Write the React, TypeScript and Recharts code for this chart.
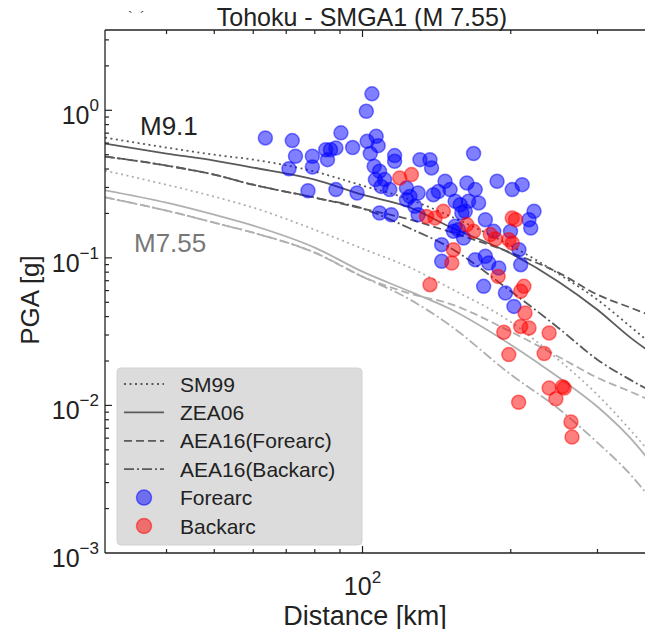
import React from "react";
import { ComposedChart, Line, Scatter, XAxis, YAxis } from "recharts";

// distances (km) at which the attenuation curves were read
const DIST = [30, 40, 50, 60, 80, 100, 125, 150, 200, 250, 300, 350, 390];

// M9.1 curves (PGA, g)
const SM99_M91 = [0.653, 0.559, 0.5, 0.463, 0.384, 0.309, 0.248, 0.193, 0.121, 0.078, 0.052, 0.0342, 0.0253];
const ZEA06_M91 = [0.594, 0.509, 0.456, 0.409, 0.339, 0.268, 0.219, 0.163, 0.107, 0.069, 0.0445, 0.0288, 0.0221];
const AEA16F_M91 = [0.486, 0.422, 0.366, 0.313, 0.256, 0.216, 0.1815, 0.1505, 0.1085, 0.0794, 0.0563, 0.046, 0.04];
const AEA16B_M91 = [0.486, 0.422, 0.366, 0.313, 0.256, 0.216, 0.158, 0.118, 0.0594, 0.0335, 0.0204, 0.0149, 0.0122];

// M7.55 curves
const SM99_M755 = [0.39, 0.313, 0.26, 0.219, 0.155, 0.1155, 0.0858, 0.0628, 0.0368, 0.0204, 0.0118, 0.0068, 0.0045];
const ZEA06_M755 = [0.287, 0.2367, 0.196, 0.1653, 0.1173, 0.0806, 0.059, 0.0454, 0.0258, 0.0155, 0.0098, 0.006, 0.0039];
const AEA16F_M755 = [0.257, 0.209, 0.173, 0.148, 0.1085, 0.0746, 0.0572, 0.049, 0.0316, 0.0214, 0.0154, 0.0124, 0.0106];
const AEA16B_M755 = [0.257, 0.209, 0.173, 0.148, 0.1085, 0.0746, 0.0521, 0.0352, 0.0162, 0.0095, 0.0056, 0.0034, 0.0022];

// recorded PGA: [distance km, pga g]
const FOREARC: [number, number][] = [
  [63.5, 0.65], [72.0, 0.623], [73.1, 0.488], [70.9, 0.402], [79.1, 0.488], [79.1, 0.413],
  [77.5, 0.285], [84.2, 0.541], [86.1, 0.541], [84.9, 0.463], [88.3, 0.556], [90.4, 0.703],
  [88.3, 0.29], [95.5, 0.559], [97.5, 0.275], [104.5, 1.292], [101.8, 0.984], [102.2, 0.616],
  [106.6, 0.666], [107.6, 0.576], [103.7, 0.509], [105.6, 0.417], [108.3, 0.386], [106.2, 0.339],
  [109.1, 0.305], [113.6, 0.29], [108.3, 0.2015], [114.4, 0.196], [116.2, 0.493], [116.2, 0.451],
  [110.9, 0.339], [130.8, 0.463], [137.1, 0.463], [138.1, 0.407], [168.1, 0.509], [122.8, 0.298],
  [124.8, 0.261], [122.8, 0.248], [127.7, 0.2235], [129.7, 0.275], [129.7, 0.196], [139.3, 0.268],
  [142.6, 0.282], [147.1, 0.33], [150.6, 0.29], [154.2, 0.2415], [157.9, 0.2294], [162.9, 0.322],
  [169.4, 0.29], [172.1, 0.2357], [164.2, 0.2415], [161.7, 0.2066], [159.1, 0.2015], [187.6, 0.33],
  [201.4, 0.29], [211.0, 0.3135], [223.0, 0.2066], [217.8, 0.1815], [219.6, 0.1594], [177.6, 0.1815],
  [184.7, 0.1512], [154.2, 0.1635], [160.4, 0.1364], [153.0, 0.1512], [156.6, 0.1553], [144.8, 0.1229],
  [144.8, 0.0947], [169.4, 0.0972], [177.6, 0.1024], [180.4, 0.0923], [189.1, 0.0854], [199.8, 0.1512],
  [207.8, 0.1136], [209.5, 0.0899], [176.2, 0.0641], [195.1, 0.0578], [203.0, 0.0469],
];

const BACKARC: [number, number][] = [
  [119.0, 0.348], [125.7, 0.3665], [134.9, 0.191], [145.9, 0.2066], [140.4, 0.1865], [162.9, 0.168],
  [168.1, 0.1512], [181.8, 0.1437], [186.2, 0.1343], [198.2, 0.1329], [201.4, 0.1262], [201.4, 0.1865],
  [204.6, 0.1815], [153.0, 0.1136], [151.8, 0.0923], [188.5, 0.0749], [137.1, 0.0658], [212.7, 0.0641],
  [209.5, 0.0593], [213.8, 0.0423], [209.5, 0.0343], [217.8, 0.0335], [193.6, 0.0313], [239.3, 0.031],
  [198.2, 0.0221], [233.8, 0.0225], [239.3, 0.0131], [254.7, 0.0134], [247.0, 0.0111], [256.8, 0.0131],
  [207.5, 0.0105], [265.0, 0.00773], [266.3, 0.0061],
];

const X_TICKS = [40, 50, 60, 70, 80, 90, 100, 200, 300];
const Y_TICKS = [
  0.001, 0.002, 0.003, 0.004, 0.005, 0.006, 0.007, 0.008, 0.009,
  0.01, 0.02, 0.03, 0.04, 0.05, 0.06, 0.07, 0.08, 0.09,
  0.1, 0.2, 0.3, 0.4, 0.5, 0.6, 0.7, 0.8, 0.9,
  1, 2, 3,
];

const FONT = '"Liberation Sans", Arial, Helvetica, sans-serif';
const DARK = "#5a5a5a";
const LIGHT = "#b0b0b0";
const DOT = "2 3.5";
const DASH = "8 4";
const DASHDOT = "10 3 2 3";
const AXIS = "#222";

const PLOT_LEFT = 105;
const PLOT_TOP = 30;
const PLOT_BOTTOM = 553;

const isDecade = (v: number) => Math.abs(Math.log10(v) - Math.round(Math.log10(v))) < 1e-9;
const expText = (v: number) => {
  const e = Math.round(Math.log10(v));
  return e < 0 ? `\u2212${-e}` : `${e}`;
};

const toPoints = (ys: number[]) => DIST.map((x, i) => ({ x, y: ys[i] }));
const toXY = (pts: [number, number][]) => pts.map(([x, y]) => ({ x, y }));

function BottomTick(props: any) {
  const { x, payload } = props;
  const v = payload.value;
  const major = isDecade(v);
  return (
    <g>
      <line x1={x} x2={x} y1={PLOT_BOTTOM} y2={PLOT_BOTTOM - (major ? 7 : 4)} stroke={AXIS} strokeWidth={1.2} />
      {major && (
        <text x={x} y={PLOT_BOTTOM + 42} textAnchor="middle" fontSize={25} fill="#222" fontFamily={FONT}>
          10<tspan dy={-12} fontSize={17}>{expText(v)}</tspan>
        </text>
      )}
    </g>
  );
}

function TopTick(props: any) {
  const { x, payload } = props;
  const major = isDecade(payload.value);
  return <line x1={x} x2={x} y1={PLOT_TOP} y2={PLOT_TOP + (major ? 7 : 4)} stroke={AXIS} strokeWidth={1.2} />;
}

function LeftTick(props: any) {
  const { y, payload } = props;
  const v = payload.value;
  const major = isDecade(v);
  return (
    <g>
      {v > 0.001 && (
        <line x1={PLOT_LEFT} x2={PLOT_LEFT + (major ? 7 : 4)} y1={y} y2={y} stroke={AXIS} strokeWidth={1.2} />
      )}
      {major && (
        <text x={99} y={y + 14} textAnchor="end" fontSize={25} fill="#222" fontFamily={FONT}>
          10<tspan dy={-13} fontSize={17}>{expText(v)}</tspan>
        </text>
      )}
    </g>
  );
}

const dotShape = (color: string) => (p: any) => (
  <circle cx={p.cx} cy={p.cy} r={7} fill={color} fillOpacity={0.5} stroke={color} strokeOpacity={0.5} strokeWidth={1.5} />
);

const CURVES = [
  { key: "sm99_91", y: SM99_M91, color: DARK, dash: DOT },
  { key: "zea06_91", y: ZEA06_M91, color: DARK, dash: undefined },
  { key: "aeaf_91", y: AEA16F_M91, color: DARK, dash: DASH },
  { key: "aeab_91", y: AEA16B_M91, color: DARK, dash: DASHDOT },
  { key: "sm99_755", y: SM99_M755, color: LIGHT, dash: DOT },
  { key: "zea06_755", y: ZEA06_M755, color: LIGHT, dash: undefined },
  { key: "aeaf_755", y: AEA16F_M755, color: LIGHT, dash: DASH },
  { key: "aeab_755", y: AEA16B_M755, color: LIGHT, dash: DASHDOT },
];

const LEGEND_ROWS = [
  { label: "SM99", dash: DOT },
  { label: "ZEA06", dash: undefined },
  { label: "AEA16(Forearc)", dash: DASH },
  { label: "AEA16(Backarc)", dash: DASHDOT },
  { label: "Forearc", marker: "#0000ff" },
  { label: "Backarc", marker: "#ff0000" },
];

function LegendBox() {
  return (
    <svg width={248} height={180} style={{ position: "absolute", left: 116, top: 367 }}>
      <rect x={1} y={1} width={245} height={177} rx={4} fill="#dcdcdc" stroke="#d2d2d2" />
      {LEGEND_ROWS.map((r: any, i) => {
        const cy = 17 + i * 28.4;
        return (
          <g key={r.label}>
            {r.marker ? (
              <circle cx={28} cy={cy} r={7.5} fill={r.marker} fillOpacity={0.5} stroke={r.marker} strokeOpacity={0.5} strokeWidth={1.5} />
            ) : (
              <line x1={8} x2={48} y1={cy} y2={cy} stroke={DARK} strokeWidth={1.8} strokeDasharray={r.dash} />
            )}
            <text x={64} y={cy + 7.5} fontSize={21} fill="#222" fontFamily={FONT}>
              {r.label}
            </text>
          </g>
        );
      })}
    </svg>
  );
}

export default function App() {
  return (
    <div style={{ position: "relative", width: 653, height: 637, overflow: "hidden", margin: -8, background: "#fff" }}>
      <ComposedChart width={660} height={637} margin={{ top: 20, right: 1, bottom: 0, left: 0 }}>
        <XAxis
          dataKey="x" type="number" scale="log" domain={[30, 400]} ticks={X_TICKS} interval={0}
          tick={BottomTick} tickLine={false} axisLine={{ stroke: AXIS, strokeWidth: 1.3 }}
          height={84} allowDataOverflow
        />
        <XAxis
          xAxisId="top" orientation="top" dataKey="x" type="number" scale="log" domain={[30, 400]}
          ticks={X_TICKS} interval={0} tick={TopTick} tickLine={false}
          axisLine={{ stroke: AXIS, strokeWidth: 1.3 }} height={10} allowDataOverflow
        />
        <YAxis
          dataKey="y" type="number" scale="log" domain={[0.001, 3.5]} ticks={Y_TICKS} interval={0}
          tick={LeftTick} tickLine={false} axisLine={{ stroke: AXIS, strokeWidth: 1.3 }}
          width={105} allowDataOverflow
        />
        {CURVES.map((c) => (
          <Line
            key={c.key}
            data={toPoints(c.y)}
            dataKey="y"
            type="monotone"
            stroke={c.color}
            strokeWidth={1.8}
            strokeDasharray={c.dash}
            dot={false}
            activeDot={false}
            isAnimationActive={false}
          />
        ))}
        <Scatter data={toXY(FOREARC)} dataKey="y" shape={dotShape("#0000ff")} isAnimationActive={false} />
        <Scatter data={toXY(BACKARC)} dataKey="y" shape={dotShape("#ff0000")} isAnimationActive={false} />
      </ComposedChart>

      <svg width={653} height={637} style={{ position: "absolute", left: 0, top: 0, pointerEvents: "none" }} fontFamily={FONT}>
        <text x={128} y={22} fontSize={14} fill="#444">`</text>
        <text x={140} y={22} fontSize={14} fill="#444">´</text>
        <text x={362} y={26} textAnchor="middle" fontSize={25} fill="#222">Tohoku - SMGA1 (M 7.55)</text>
        <text x={365} y={625} textAnchor="middle" fontSize={27} fill="#222">Distance [km]</text>
        <text transform="translate(39,300) rotate(-90)" textAnchor="middle" fontSize={26} fill="#222">PGA [g]</text>
        <text x={140} y={135} fontSize={26} fill="#222">M9.1</text>
        <text x={134} y={252} fontSize={26} fill="#777">M7.55</text>
      </svg>
      <LegendBox />
    </div>
  );
}
